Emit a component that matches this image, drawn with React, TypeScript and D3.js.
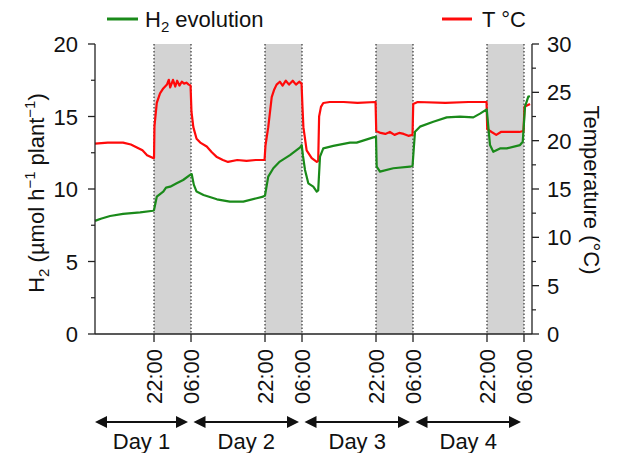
import React from "react";
import * as d3 from "d3";

// time in hours since Day 1 00:00
const timeStart = 9.24;
const timeEnd = 103.73;
const nightStarts = [22, 46, 70, 94];
const nightEnds = [30, 54, 78, 102];
const tickTimes = [22, 30, 46, 54, 70, 78, 94, 102];
const tickLabels = ["22:00", "06:00", "22:00", "06:00", "22:00", "06:00", "22:00", "06:00"];
const dayLabels = ["Day 1", "Day 2", "Day 3", "Day 4"];
const dayBounds = [9.24, 30, 54, 78, 102];
const leftTicks = [0, 5, 10, 15, 20];
const rightTicks = [0, 5, 10, 15, 20, 25, 30];

const tempTimes = [9.24, 12, 15.3, 17, 18.3, 19.5, 20.5, 21.8, 22.0, 22.1, 22.6, 23.3, 24.0, 24.8, 25.2, 25.5, 26.1, 26.6, 27.0, 27.5, 28.0, 28.5, 29.0, 29.5, 29.9, 30.1, 30.5, 31.2, 32.0, 33.4, 34.5, 35.6, 36.9, 38, 40, 42, 44, 45.9, 46.1, 46.7, 47.45, 48.0, 48.5, 49.2, 49.8, 50.5, 51.2, 52.0, 52.7, 53.4, 53.9, 54.1, 54.3, 55.0, 56.1, 57.2, 57.5, 57.7, 58.1, 58.6, 60, 63, 66, 69.9, 70.05, 71, 72, 73, 74, 75, 76, 77, 77.9, 78.05, 79, 85, 90, 93.9, 94.05, 95, 96, 97, 99, 101, 101.9, 102.1, 103.3];
const tempValues = [19.7, 19.8, 19.8, 19.6, 19.3, 19.0, 18.5, 18.2, 18.2, 21.5, 23.9, 24.9, 25.4, 25.8, 26.3, 25.5, 26.3, 25.6, 26.2, 25.7, 26.1, 25.9, 26.0, 25.8, 25.7, 23.0, 21.4, 20.2, 19.8, 19.4, 18.8, 18.3, 18.0, 17.8, 18.0, 17.9, 18.0, 18.0, 19.5, 21.4, 24.5, 25.3, 25.8, 26.1, 25.7, 26.2, 25.8, 26.2, 25.8, 26.1, 25.9, 23.5, 21.4, 19.0, 18.2, 17.8, 17.9, 22.5, 23.5, 23.9, 24.0, 24.0, 23.9, 24.0, 21.0, 20.8, 20.7, 20.9, 20.6, 20.8, 20.7, 20.5, 20.6, 23.8, 24.0, 23.9, 24.0, 24.0, 21.2, 20.9, 20.6, 20.9, 20.9, 20.9, 21.0, 23.5, 23.8];

const h2Times = [9.24, 10.5, 12.5, 15.3, 19.0, 21.8, 22.0, 22.6, 23.3, 24.0, 24.6, 25.5, 26.9, 28.3, 29.8, 30.15, 30.6, 31.2, 32.7, 35.6, 38.4, 41.3, 44.2, 45.6, 46.0, 46.7, 47.8, 49.2, 51.4, 53.6, 53.94, 54.2, 54.65, 55.36, 56.44, 57.18, 57.5, 57.89, 58.6, 60.76, 64.38, 65.82, 69.41, 70.0, 70.15, 70.86, 73.74, 77.35, 77.9, 78.43, 79.51, 82.39, 85.29, 88.16, 91.04, 92.49, 93.94, 94.65, 95.36, 96.81, 98.26, 101.14, 101.73, 102.22, 102.93, 103.3];
const h2Values = [7.8, 7.95, 8.14, 8.28, 8.39, 8.5, 8.55, 9.47, 9.65, 9.82, 10.1, 10.16, 10.39, 10.62, 10.97, 11.03, 10.3, 9.82, 9.59, 9.29, 9.13, 9.13, 9.36, 9.47, 9.55, 10.85, 11.43, 11.89, 12.34, 12.87, 13.03, 12.3, 11.31, 10.39, 10.16, 9.82, 9.9, 12.23, 12.8, 12.97, 13.2, 13.2, 13.56, 13.6, 11.54, 11.2, 11.43, 11.54, 11.6, 13.95, 14.3, 14.64, 14.94, 14.99, 14.94, 15.2, 15.49, 13.03, 12.57, 12.8, 12.8, 13.03, 13.26, 15.68, 16.37, 16.4];

const FONT = "'Liberation Sans', Arial, Helvetica, sans-serif";
const GREEN = "#1a8a1a";
const RED = "#ff0a0a";

export default function App() {
  const left = 95, right = 532, top = 44, bottom = 334;
  const x = d3.scaleLinear().domain([timeStart, timeEnd]).range([left, right]);
  const yL = d3.scaleLinear().domain([0, 20]).range([bottom, top]);
  const yR = d3.scaleLinear().domain([0, 30]).range([bottom, top]);

  const h2Line = d3.line<number>().x((_, i) => x(h2Times[i])).y((d) => yL(d));
  const tLine = d3.line<number>().x((_, i) => x(tempTimes[i])).y((d) => yR(d));

  const leftMinor = d3.range(2.5, 20, 5);
  const rightMinor = d3.range(2.5, 30, 5);
  const fs = 22;
  const arrowY = 422;

  return (
    <svg width={620} height={453} style={{ position: "absolute", left: 0, top: 0 }} fontFamily={FONT}>
      <rect x={0} y={0} width={620} height={453} fill="#fff" />
      {nightStarts.map((s, i) => (
        <rect key={"n" + i} x={x(s)} y={top} width={x(nightEnds[i]) - x(s)} height={bottom - top} fill="#d3d3d3" />
      ))}
      {tickTimes.map((t, i) => (
        <g key={"t" + i}>
          <line x1={x(t)} x2={x(t)} y1={top} y2={bottom} stroke="#333" strokeWidth={1.2} strokeDasharray="1.5,2" />
          <line x1={x(t)} x2={x(t)} y1={bottom} y2={bottom + 8} stroke="#222" strokeWidth={1.3} />
          <text
            transform={`translate(${x(t) + 8},${bottom + 15}) rotate(-90)`}
            textAnchor="end"
            fontSize={fs}
            fill="#111"
          >
            {tickLabels[i]}
          </text>
        </g>
      ))}
      <path d={tLine(tempValues) || ""} fill="none" stroke={RED} strokeWidth={2.2} strokeLinejoin="round" />
      <path d={h2Line(h2Values) || ""} fill="none" stroke={GREEN} strokeWidth={2.2} strokeLinejoin="round" />

      {/* axes */}
      <line x1={left} x2={right} y1={bottom} y2={bottom} stroke="#222" strokeWidth={1.3} />
      <line x1={left} x2={left} y1={top} y2={bottom} stroke="#222" strokeWidth={1.3} />
      <line x1={right} x2={right} y1={top} y2={bottom} stroke="#222" strokeWidth={1.3} />
      {leftTicks.map((v) => (
        <g key={"l" + v}>
          <line x1={left - 7} x2={left} y1={yL(v)} y2={yL(v)} stroke="#222" strokeWidth={1.3} />
          <text x={left - 17} y={yL(v) + 8} textAnchor="end" fontSize={fs} fill="#111">{v}</text>
        </g>
      ))}
      {leftMinor.map((v) => (
        <line key={"lm" + v} x1={left - 4} x2={left} y1={yL(v)} y2={yL(v)} stroke="#222" strokeWidth={1.2} />
      ))}
      {rightTicks.map((v) => (
        <g key={"r" + v}>
          <line x1={right} x2={right + 7} y1={yR(v)} y2={yR(v)} stroke="#222" strokeWidth={1.3} />
          <text x={right + 15} y={yR(v) + 8} textAnchor="start" fontSize={fs} fill="#111">{v}</text>
        </g>
      ))}
      {rightMinor.map((v) => (
        <line key={"rm" + v} x1={right} x2={right + 4} y1={yR(v)} y2={yR(v)} stroke="#222" strokeWidth={1.2} />
      ))}

      {/* axis titles */}
      <text transform={`translate(44,193) rotate(-90)`} textAnchor="middle" fontSize={fs} fill="#111">
        H<tspan fontSize={15} dy={5}>2</tspan>
        <tspan dy={-5}> (µmol h</tspan>
        <tspan fontSize={15} dy={-9}>−1</tspan>
        <tspan dy={9}> plant</tspan>
        <tspan fontSize={15} dy={-9}>−1</tspan>
        <tspan dy={9}>)</tspan>
      </text>
      <text transform={`translate(584,190) rotate(90)`} textAnchor="middle" fontSize={fs} fill="#111">
        Temperature (°C)
      </text>

      {/* legend */}
      <line x1={107} x2={138} y1={19} y2={19} stroke={GREEN} strokeWidth={3} />
      <text x={145} y={27} fontSize={fs} fill="#111">
        H<tspan fontSize={15} dy={5}>2</tspan>
        <tspan dy={-5}> evolution</tspan>
      </text>
      <line x1={442} x2={472} y1={19} y2={19} stroke={RED} strokeWidth={3} />
      <text x={482} y={27} fontSize={fs} fill="#111">T °C</text>

      {/* day arrows */}
      {dayLabels.map((lab, i) => {
        const x0 = x(dayBounds[i]) + (i === 0 ? 0 : 2.5);
        const x1 = x(dayBounds[i + 1]) - 3;
        const ah = 12, aw = 6;
        return (
          <g key={"d" + i}>
            <line x1={x0 + ah - 1} x2={x1 - ah + 1} y1={arrowY} y2={arrowY} stroke="#111" strokeWidth={2} />
            <path d={`M${x0},${arrowY} L${x0 + ah},${arrowY - aw} L${x0 + ah},${arrowY + aw} Z`} fill="#111" />
            <path d={`M${x1},${arrowY} L${x1 - ah},${arrowY - aw} L${x1 - ah},${arrowY + aw} Z`} fill="#111" />
            <text x={(x0 + x1) / 2} y={449} textAnchor="middle" fontSize={fs} fill="#111">{lab}</text>
          </g>
        );
      })}
    </svg>
  );
}
